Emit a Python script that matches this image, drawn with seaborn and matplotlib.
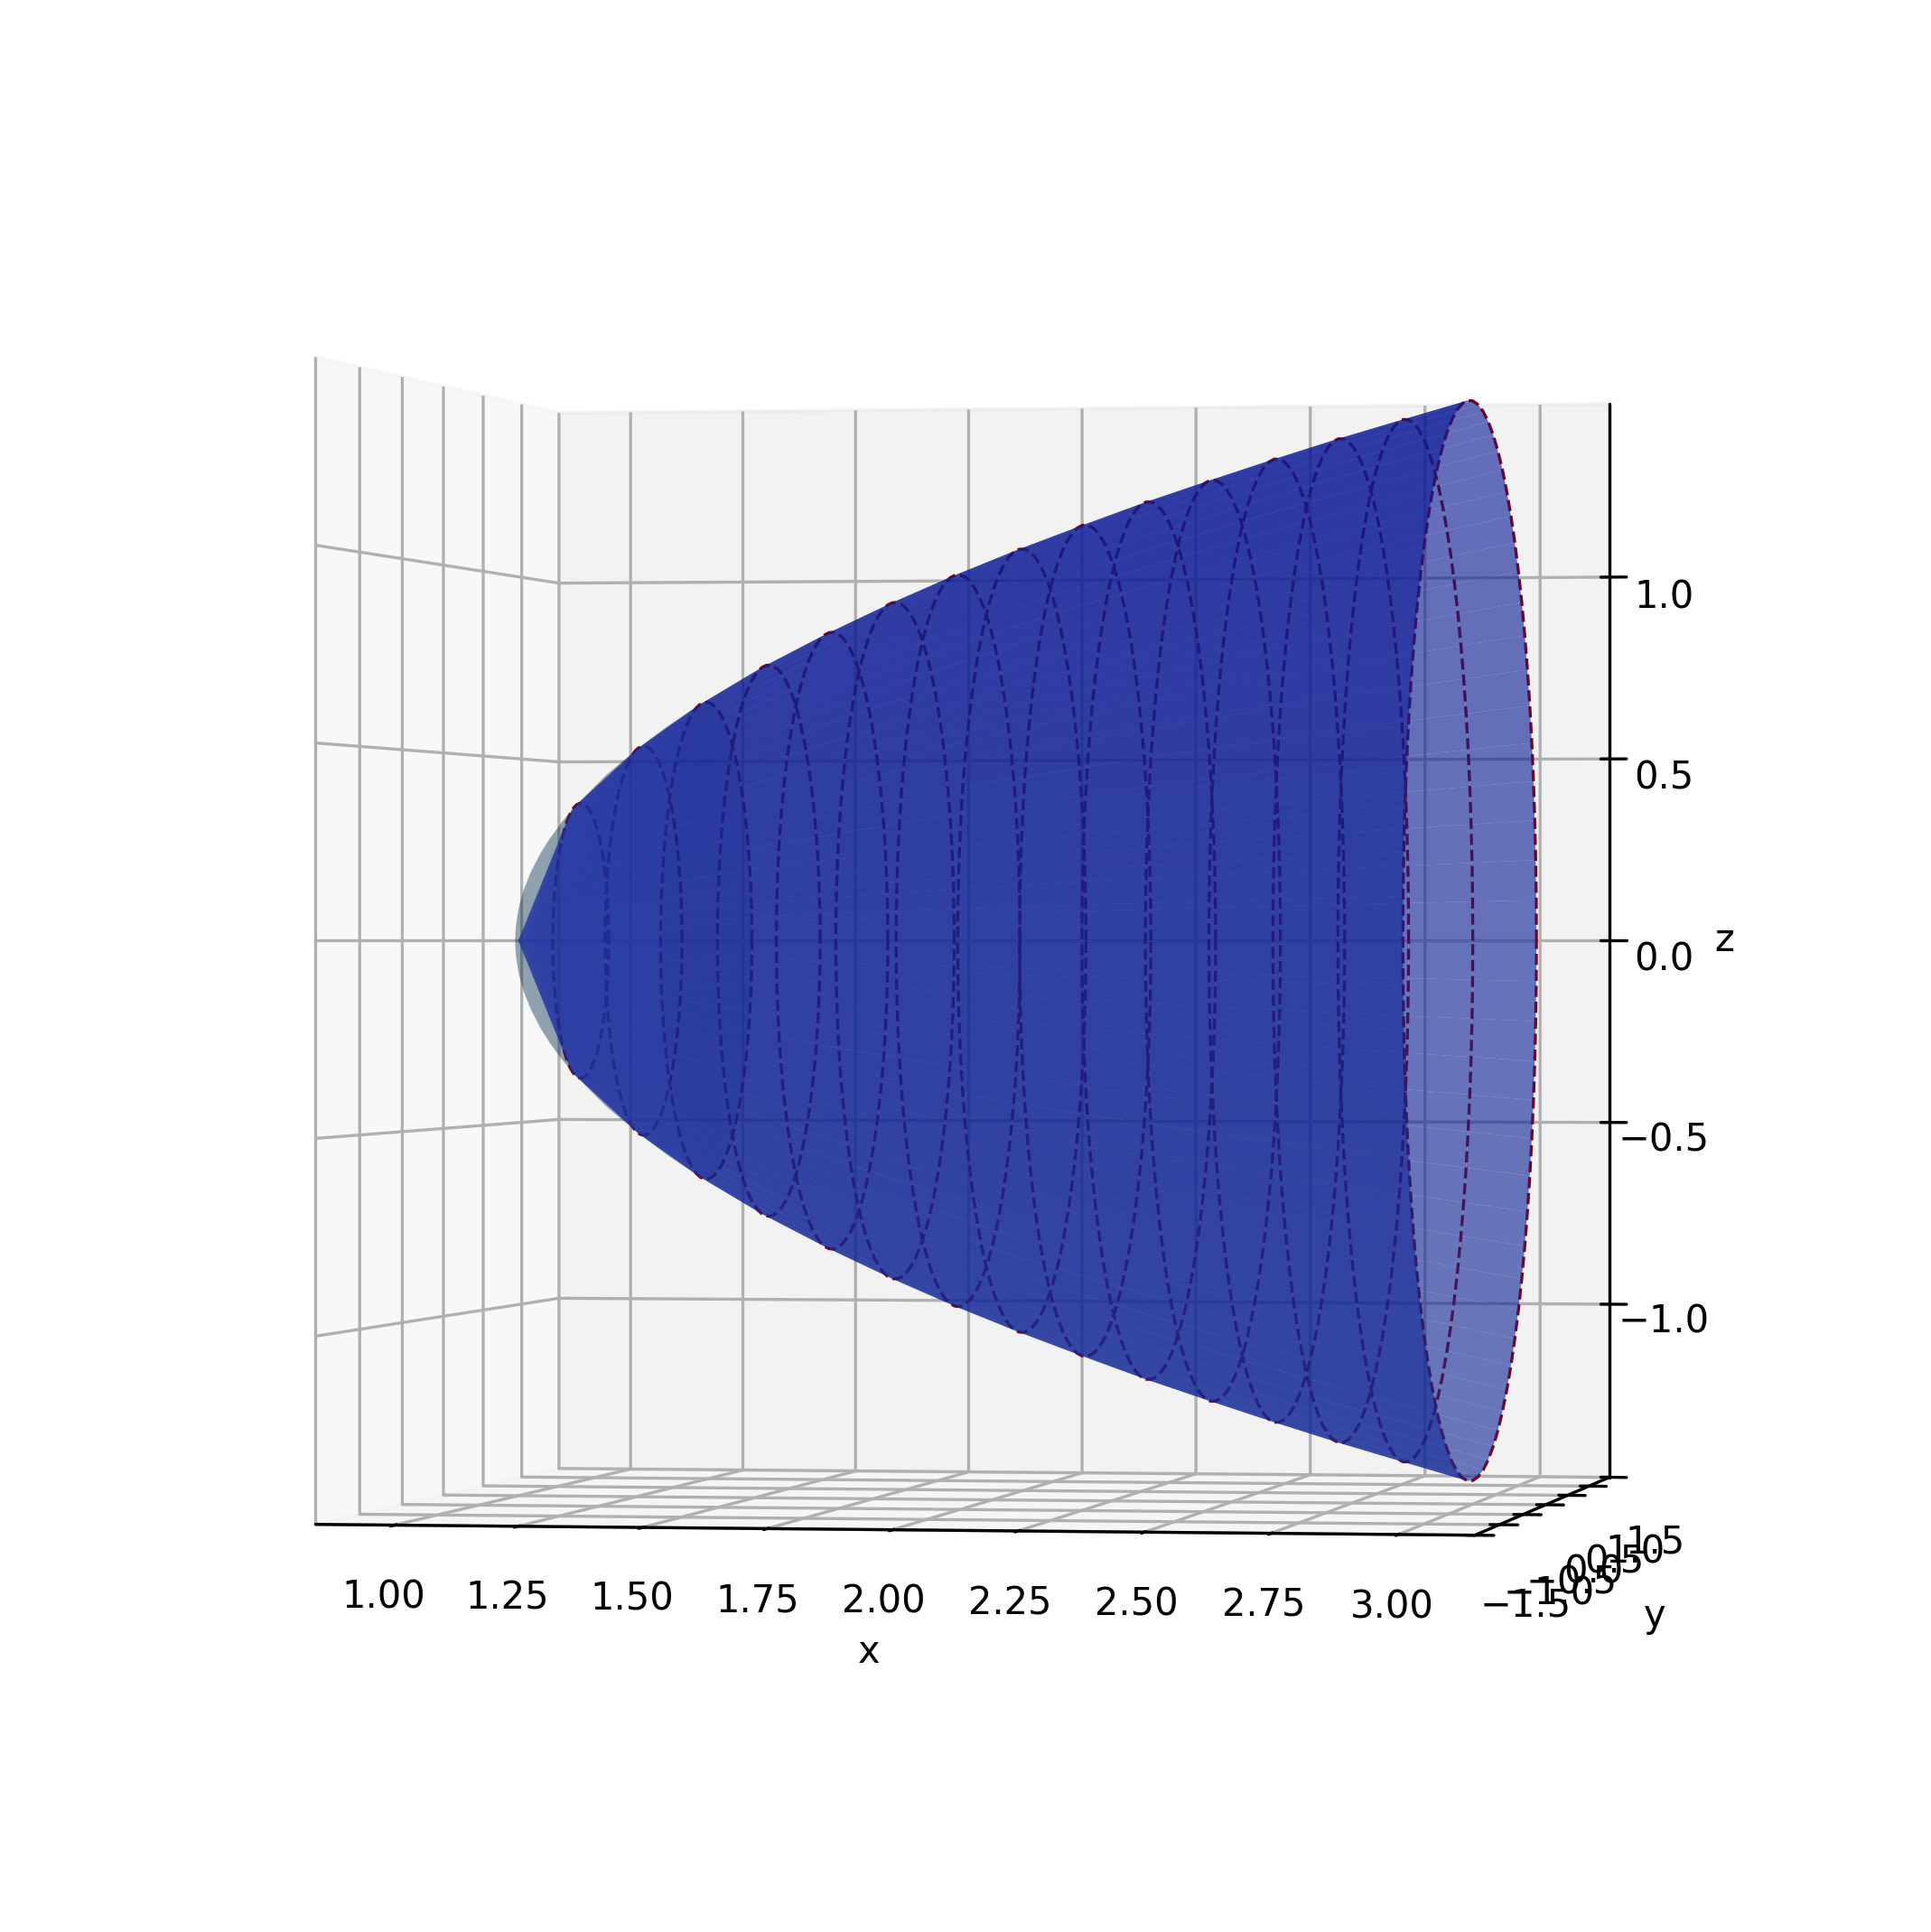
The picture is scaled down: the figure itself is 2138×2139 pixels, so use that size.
import numpy as np
import matplotlib
matplotlib.use("Agg")
import matplotlib.pyplot as plt
import seaborn as sns

sns.set_theme(style="ticks", rc={
    "grid.color": "#b0b0b0", "grid.linewidth": 0.8,
    "text.color": "black", "axes.labelcolor": "black",
    "xtick.color": "black", "ytick.color": "black",
    "axes.edgecolor": "black", "axes.linewidth": 0.8,
    "font.size": 10, "axes.labelsize": 10,
    "xtick.labelsize": 10, "ytick.labelsize": 10,
    "xtick.major.size": 3.5, "ytick.major.size": 3.5,
    "xtick.major.width": 0.8, "ytick.major.width": 0.8,
})
plt.rcParams['font.family'] = ['DejaVu Sans']

# stations along x and the radius at each one
x_stations = [1.0, 1.133, 1.267, 1.4, 1.533, 1.667, 1.8, 1.933, 2.067, 2.2, 2.333, 2.467, 2.6, 2.733, 2.867, 3.0]
radii = [0.0, 0.365, 0.516, 0.632, 0.73, 0.816, 0.894, 0.966, 1.033, 1.095, 1.155, 1.211, 1.265, 1.317, 1.366, 1.414]
# finer profile for the grey surface near the tip
fine_x = [1.0, 1.003, 1.008, 1.015, 1.025, 1.04, 1.06, 1.08, 1.105, 1.133, 1.2, 1.267, 1.33, 1.4]
fine_r = [0.0, 0.055, 0.089, 0.122, 0.158, 0.2, 0.245, 0.283, 0.324, 0.365, 0.447, 0.516, 0.574, 0.632]

x_ticks = [1.0, 1.25, 1.5, 1.75, 2.0, 2.25, 2.5, 2.75, 3.0]
y_ticks = [-1.5, -1.0, -0.5, 0.0, 0.5, 1.0, 1.5]
z_ticks = [-1.0, -0.5, 0.0, 0.5, 1.0]

blue_top = np.array([12, 26, 150, 158]) / 255
blue_bottom = np.array([20, 42, 150, 158]) / 255

fig = plt.figure(figsize=(7.127, 7.13), dpi=300)
ax = fig.add_subplot(111, projection="3d", computed_zorder=False)
ax.set_position([0.1146, 0.1177, 0.775, 0.77])
ax.set_box_aspect((1, 1, 1), zoom=1.264)
ax.set_proj_type("persp", focal_length=1.35)

v = np.linspace(0, 2 * np.pi, 81)

# dashed circles sit under the surfaces
for cx, cr in zip(x_stations, radii):
    ax.plot(np.full_like(v, cx), cr * np.cos(v), cr * np.sin(v), color="darkred",
            linestyle="--", linewidth=0.8, zorder=1)

# grey smooth surface near the tip
U, V = np.meshgrid(fine_x, v)
R, _ = np.meshgrid(fine_r, v)
ax.plot_surface(U, R * np.cos(V), R * np.sin(V), color="#082f53", alpha=0.25, linewidth=0, zorder=2,
                rstride=1, cstride=1, shade=False)

# blue surface, a little lighter towards the bottom
U, V = np.meshgrid(x_stations, v)
R, _ = np.meshgrid(radii, v)
Z = R * np.sin(V)
t = (Z[..., None] + 1.414) / 2.828
face = blue_top * t + blue_bottom * (1 - t)
# make up for the grey layer underneath near the tip
face[:, :3, :3] += 0.05
ax.plot_surface(U, R * np.cos(V), Z, facecolors=face, linewidth=0, zorder=3,
                rstride=1, cstride=1, shade=False)

ax.set_xlim(0.84, 3.15)
ax.set_ylim(-1.5, 1.5)
ax.set_zlim(-1.476, 1.476)
ax.set_xticks(x_ticks)
ax.set_yticks(y_ticks)
ax.set_zticks(z_ticks)
ax.tick_params(axis="both", pad=0.8)
ax.tick_params(axis="z", pad=1.5)
ax.set_xlabel("x", labelpad=-1)
ax.set_ylabel("y", labelpad=-1)
ax.set_zlabel("z", labelpad=-1)
ax.view_init(elev=0, azim=-80.25)
fig.savefig("out.png", dpi=300)
